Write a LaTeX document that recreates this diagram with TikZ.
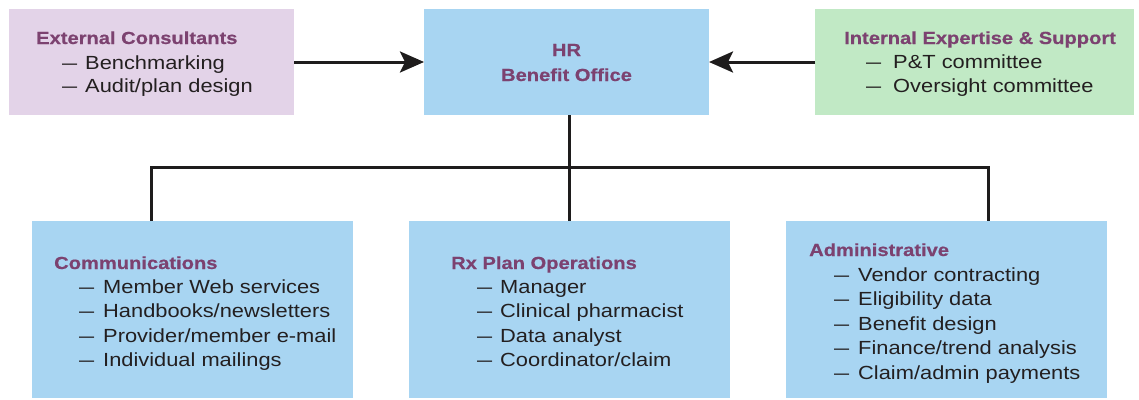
\documentclass[tikz,border=0pt]{standalone}
\usepackage{fontspec}
\usepackage{graphicx}
\setmainfont{Liberation Sans}[FakeStretch=1.15, BoldFeatures={FakeBold=0.6}]
\usetikzlibrary{arrows.meta}

\definecolor{headpurple}{RGB}{124,66,112}
\definecolor{inktext}{RGB}{35,31,32}
\definecolor{inkline}{RGB}{30,28,28}
\definecolor{pinkpanel}{RGB}{227,211,232}
\definecolor{bluepanel}{RGB}{168,213,242}
\definecolor{greenpanel}{RGB}{193,233,197}

% narrow dash that leads each list entry, padded to a fixed width
\newcommand{\listdash}[1]{\makebox[#1][l]{\scalebox{0.69}[1]{—}}}

\tikzset{
  panel/.style={rectangle, draw=none, inner sep=0pt, outer sep=0pt},
  head/.style={anchor=base west, inner sep=0pt, text=headpurple,
    font=\bfseries\fontsize{17.5}{20}\selectfont},
  title/.style={anchor=base, inner sep=0pt, text=headpurple,
    font=\bfseries\fontsize{17.5}{20}\selectfont},
  entry/.style={anchor=base west, inner sep=0pt, text=inktext,
    font=\fontsize{19}{22}\selectfont},
  link/.style={line width=3pt, draw=inkline},
  feed/.style={link, -{Stealth[length=24pt,width=21pt,inset=5pt]}},
}

\begin{document}
\begin{tikzpicture}[x=1pt,y=-1pt]
\useasboundingbox (0,0) rectangle (1139,399);

% top row
\node[panel, fill=pinkpanel, minimum width=285pt, minimum height=106pt] (ext) at (151.5,62) {};
\node[panel, fill=bluepanel, minimum width=285pt, minimum height=106pt] (hr) at (566.5,62) {};
\node[panel, fill=greenpanel, minimum width=319pt, minimum height=106pt] (int) at (974.5,62) {};

% bottom row
\node[panel, fill=bluepanel, minimum width=321pt, minimum height=177pt] (comm) at (192.5,309.5) {};
\node[panel, fill=bluepanel, minimum width=321pt, minimum height=177pt] (rx) at (569.5,309.5) {};
\node[panel, fill=bluepanel, minimum width=321pt, minimum height=177pt] (admin) at (946.5,309.5) {};

% connectors
\draw[feed] (ext.east) -- (hr.west);
\draw[feed] (int.west) -- (hr.east);
\coordinate (busL) at (151,167);
\coordinate (busR) at (988,167);
\draw[link] (rx.north |- hr.south) -- (rx.north);
\draw[link] (comm.north -| busL) -- (busL) -- (busR) -- (admin.north -| busR);

% HR office
\node[title] (hr-1) at (566.5,56) {HR};
\node[title] (hr-2) at (566.5,81) {Benefit Office};

% external consultants
\node[head] (ext-h) at (36,44) {External Consultants};
\foreach \t [count=\i from 0] in {Benchmarking, Audit/plan design}
  \node[entry] (ext-\i) at (62,69+23.5*\i) {\listdash{23pt}\t};

% internal expertise
\node[head] (int-h) at (844,44) {Internal Expertise \& Support};
\foreach \t [count=\i from 0] in {P\&T committee, Oversight committee}
  \node[entry] (int-\i) at (866,68+24*\i) {\listdash{27pt}\t};

% communications
\node[head] (comm-h) at (54,269) {Communications};
\foreach \t [count=\i from 0] in {Member Web services, Handbooks/newsletters,
    Provider/member e-mail, Individual mailings}
  \node[entry] (comm-\i) at (79,293+24.6*\i) {\listdash{24pt}\t};

% plan operations
\node[head] (rx-h) at (451,269) {Rx Plan Operations};
\foreach \t [count=\i from 0] in {Manager, Clinical pharmacist,
    Data analyst, Coordinator/claim}
  \node[entry] (rx-\i) at (477,293+24.6*\i) {\listdash{23pt}\t};

% administrative
\node[head] (admin-h) at (809,256) {Administrative};
\foreach \t [count=\i from 0] in {Vendor contracting, Eligibility data,
    Benefit design, Finance/trend analysis, Claim/admin payments}
  \node[entry] (admin-\i) at (834,281+24.6*\i) {\listdash{24pt}\t};
\end{tikzpicture}
\end{document}
